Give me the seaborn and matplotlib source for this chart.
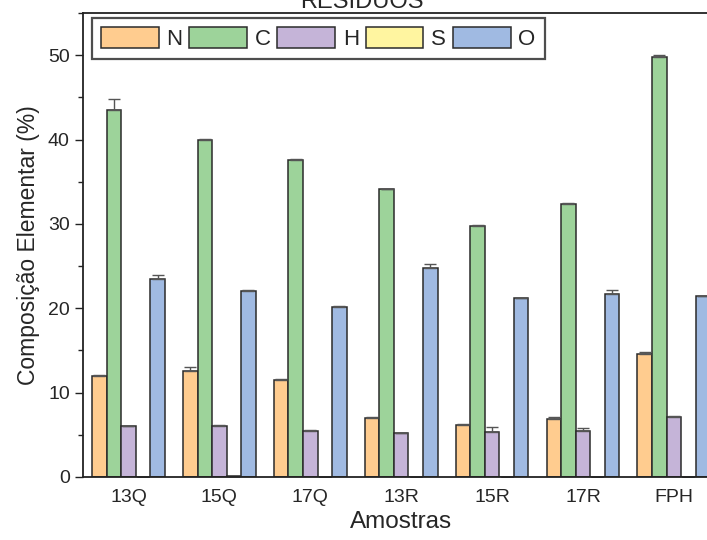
import numpy as np
import pandas as pd
import matplotlib
matplotlib.use("Agg")
import matplotlib.pyplot as plt
from matplotlib.ticker import MultipleLocator
import seaborn as sns

sns.set_style("ticks")
plt.rcParams["font.family"] = ["Liberation Sans", "DejaVu Sans"]

# data
amostras = ["13Q", "15Q", "17Q", "13R", "15R", "17R", "FPH"]
elementos = ["N", "C", "H", "S", "O"]
n_val = [12.0, 12.6, 11.5, 7.0, 6.2, 6.9, 14.6]
c_val = [43.5, 39.9, 37.6, 34.1, 29.8, 32.4, 49.8]
h_val = [6.0, 6.0, 5.4, 5.2, 5.3, 5.5, 7.1]
s_val = [0.0, 0.15, 0.0, 0.0, 0.0, 0.0, 0.0]
o_val = [23.5, 22.1, 20.2, 24.8, 21.2, 21.7, 21.4]
n_err = [0.1, 0.4, 0.1, 0.1, 0.05, 0.2, 0.2]
c_err = [1.3, 0.15, 0.05, 0.05, 0.1, 0.05, 0.2]
h_err = [0.05, 0.15, 0.2, 0.05, 0.6, 0.3, 0.1]
s_err = [0.0, 0.0, 0.0, 0.0, 0.0, 0.0, 0.0]
o_err = [0.4, 0.1, 0.05, 0.4, 0.05, 0.5, 0.05]
cores = ["#FFCC8F", "#9DD39A", "#C5B4D8", "#FFF5A0", "#A0BAE2"]

valores = [n_val, c_val, h_val, s_val, o_val]
erros = [n_err, c_err, h_err, s_err, o_err]
df = pd.DataFrame({
    "amostra": amostras * len(elementos),
    "elemento": np.repeat(elementos, len(amostras)),
    "valor": np.concatenate(valores),
})

fig = plt.figure(figsize=(7.07, 5.40), dpi=100)
ax = fig.add_axes([0.1174, 0.1167, 0.90, 0.859])

sns.barplot(data=df, x="amostra", y="valor", hue="elemento", order=amostras,
            hue_order=elementos, palette=dict(zip(elementos, cores)),
            width=0.8, errorbar=None, edgecolor="#2b2b2b", linewidth=1.1,
            saturation=1, ax=ax)

# error bars at the bar centres
for cont, err in zip(ax.containers, erros):
    xs = [b.get_x() + b.get_width() / 2 for b in cont]
    ys = [b.get_height() for b in cont]
    ax.errorbar(xs, ys, yerr=[np.zeros(len(err)), err], fmt="none",
                ecolor="#555555", elinewidth=1, capsize=4, capthick=1)

ax.set_xlim(-0.5, 6.5)
ax.set_ylim(0, 55)
ax.yaxis.set_major_locator(MultipleLocator(10))
ax.yaxis.set_minor_locator(MultipleLocator(5))
ax.tick_params(axis="y", which="major", length=6, width=1, labelsize=14, color="#222222")
ax.tick_params(axis="y", which="minor", length=3.5, width=1, color="#222222")
ax.tick_params(axis="x", length=0, labelsize=14, pad=9)
for sp in ax.spines.values():
    sp.set_linewidth(1.3)
    sp.set_color("#222222")

ax.set_xlabel("Amostras", fontsize=17.5, labelpad=3)
ax.set_ylabel("Composição Elementar (%)", fontsize=16.5, labelpad=6)

handles, labels = ax.get_legend_handles_labels()
leg = ax.legend(handles, labels, ncol=5, loc="upper left",
                bbox_to_anchor=(0.014, 0.99), fontsize=16, frameon=True,
                fancybox=False, handlelength=2.6, handleheight=1.1,
                handletextpad=0.35, columnspacing=0.3, borderpad=0.4,
                borderaxespad=0)
leg.get_frame().set_edgecolor("#222222")
leg.get_frame().set_linewidth(1.6)

fig.text(0.512, 0.985, "RESÍDUOS", fontsize=17, ha="center", va="baseline")

fig.savefig("out.png", dpi=100)
